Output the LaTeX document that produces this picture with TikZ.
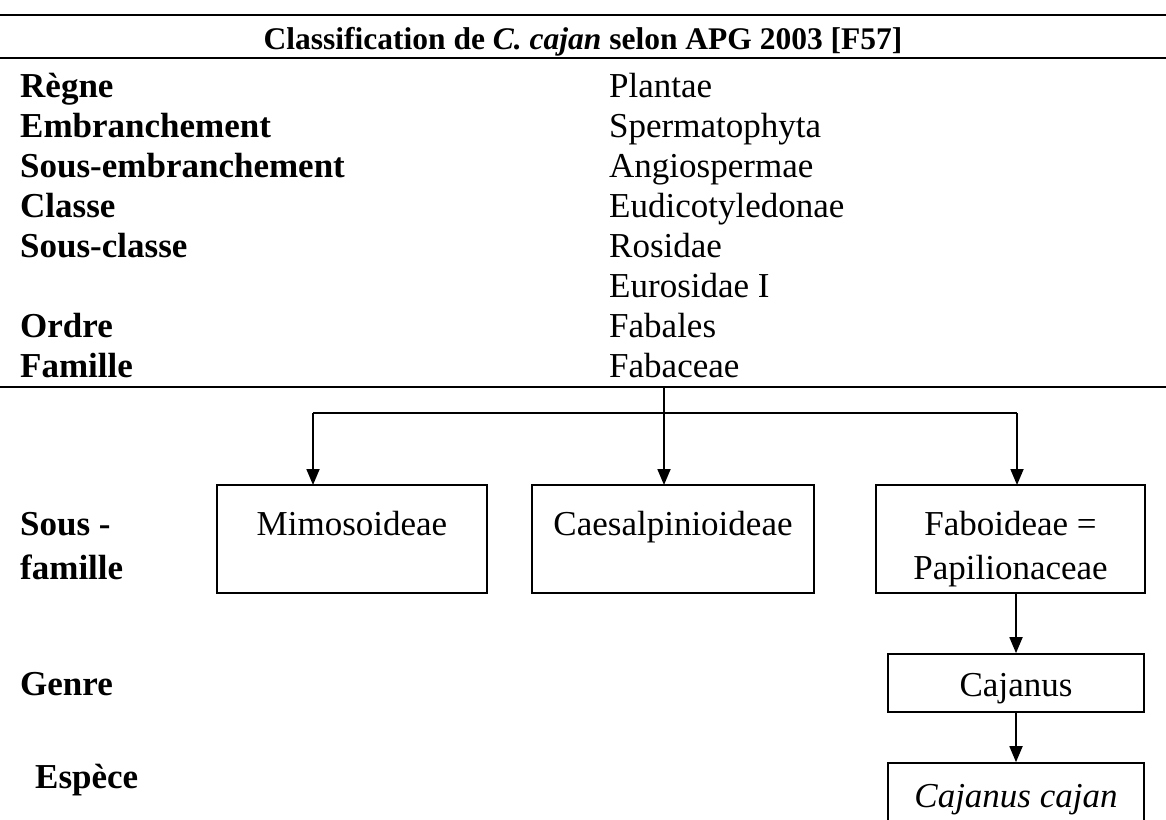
\documentclass[tikz,border=0pt]{standalone}
\usepackage{fontspec}
\setmainfont{Liberation Serif}
\usetikzlibrary{arrows.meta}
\tikzset{
  rule/.style={line width=2.6pt},
  conn/.style={line width=1.8pt},
  arr/.style={line width=1.8pt,-{Triangle[length=16pt,width=13pt]}},
  box/.style={draw,line width=1.7pt,rectangle,inner sep=0pt},
  lab/.style={anchor=base west,inner sep=0pt,font=\fontsize{35}{40}\selectfont\bfseries},
  val/.style={anchor=base west,inner sep=0pt,font=\fontsize{35}{40}\selectfont},
  btxt/.style={anchor=base,inner sep=0pt,font=\fontsize{35}{40}\selectfont},
}
\begin{document}
\begin{tikzpicture}[x=1pt,y=-1pt]
\useasboundingbox (0,0) rectangle (1166,819);
% rules
\coordinate (r1a) at (0,15); \coordinate (r1b) at (1166,15);
\coordinate (r2a) at (0,58); \coordinate (r2b) at (1166,58);
\coordinate (r3a) at (0,387); \coordinate (r3b) at (1166,387);
\draw[rule] (r1a) -- (r1b);
\draw[rule] (r2a) -- (r2b);
\draw[rule] (r3a) -- (r3b);
% title
\node[anchor=base,inner sep=0pt,font=\fontsize{31.5}{36}\selectfont\bfseries] (title) at (583,49)
  {Classification de \textit{C. cajan} selon APG 2003 [F57]};
% table rows
\node[lab] (l1) at (20,97) {Règne};
\node[lab] (l2) at (20,137) {Embranchement};
\node[lab] (l3) at (20,177) {Sous-embranchement};
\node[lab] (l4) at (20,217) {Classe};
\node[lab] (l5) at (20,257) {Sous-classe};
\node[lab] (l7) at (20,337) {Ordre};
\node[lab] (l8) at (20,377) {Famille};
\node[val] (v1) at (609,97) {Plantae};
\node[val] (v2) at (609,137) {Spermatophyta};
\node[val] (v3) at (609,177) {Angiospermae};
\node[val] (v4) at (609,217) {Eudicotyledonae};
\node[val] (v5) at (609,257) {Rosidae};
\node[val] (v6) at (609,297) {Eurosidae I};
\node[val] (v7) at (609,337) {Fabales};
\node[val] (v8) at (609,377) {Fabaceae};
% left rank labels
\node[lab] (sf1) at (20,535) {Sous -};
\node[lab] (sf2) at (20,579) {famille};
\node[lab] (ge) at (20,695) {Genre};
\node[lab] (es) at (35,788) {Espèce};
% boxes
\node[box,minimum width=270pt,minimum height=108pt] (mim) at (352,539) {};
\node[box,minimum width=282pt,minimum height=108pt] (caes) at (673,539) {};
\node[box,minimum width=269pt,minimum height=108pt] (fab) at (1010.5,539) {};
\node[box,minimum width=256pt,minimum height=58pt] (caj) at (1016,683) {};
\node[box,minimum width=256pt,minimum height=90pt] (cc) at (1016,808) {};
\node[btxt] (tmim) at (352,535) {Mimosoideae};
\node[btxt] (tcaes) at (673,535) {Caesalpinioideae};
\node[btxt] (tfab1) at (1010.5,535) {Faboideae =};
\node[btxt] (tfab2) at (1010.5,579) {Papilionaceae};
\node[btxt] (tcaj) at (1016,696) {Cajanus};
\node[btxt] (tcc) at (1016,807) {\textit{Cajanus cajan}};
% connectors
\coordinate (src) at (664,387);
\coordinate (hubL) at (313,413);
\coordinate (hubR) at (1017,413);
\coordinate (mimIn) at (313,485);
\coordinate (caesIn) at (664,485);
\coordinate (fabIn) at (1017,485);
\draw[arr] (src) -- (caesIn);
\draw[conn] (hubL) -- (hubR);
\draw[arr] (hubL) -- (mimIn);
\draw[arr] (hubR) -- (fabIn);
\draw[arr] (caj.north |- fab.south) -- (caj.north);
\draw[arr] (caj.south) -- (cc.north);
\end{tikzpicture}
\end{document}
